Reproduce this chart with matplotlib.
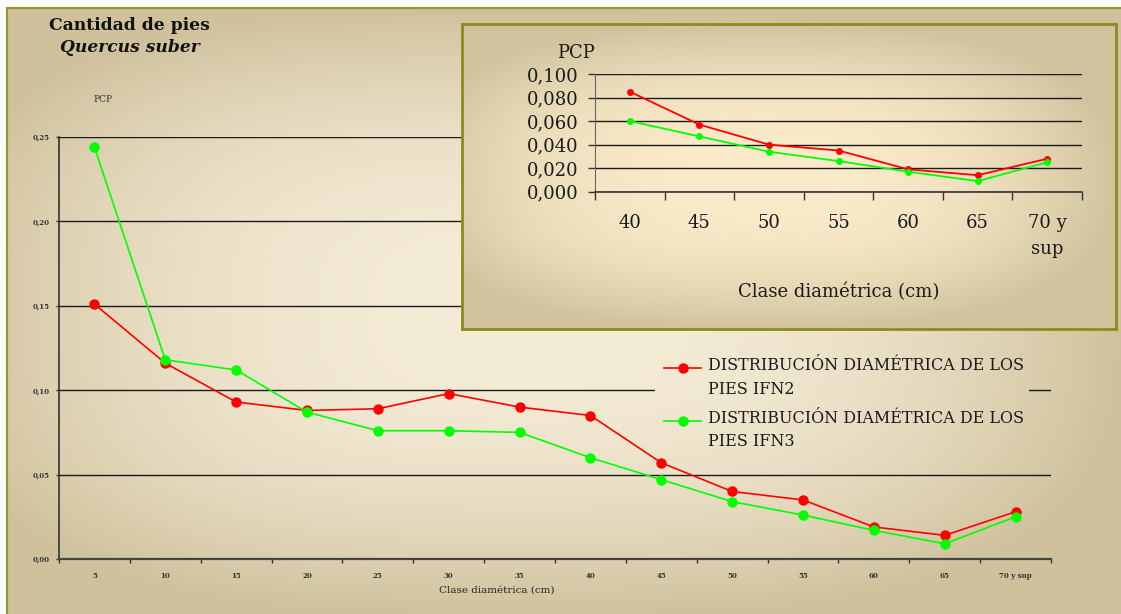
import numpy as np
import matplotlib
matplotlib.use("Agg")
import matplotlib.pyplot as plt
from matplotlib.patches import Rectangle
from matplotlib.legend_handler import HandlerLine2D

# ---- data -------------------------------------------------------------
classes = ["5", "10", "15", "20", "25", "30", "35", "40", "45", "50",
           "55", "60", "65", "70 y sup"]
ifn2 = [0.151, 0.116, 0.093, 0.088, 0.089, 0.098, 0.090, 0.085, 0.057,
        0.040, 0.035, 0.019, 0.014, 0.028]
ifn3 = [0.244, 0.118, 0.112, 0.087, 0.076, 0.076, 0.075, 0.060, 0.047,
        0.034, 0.026, 0.017, 0.009, 0.025]

inset_classes = ["40", "45", "50", "55", "60", "65", "70 y\nsup"]
inset_ifn2 = [0.085, 0.057, 0.040, 0.035, 0.019, 0.014, 0.028]
inset_ifn3 = [0.060, 0.047, 0.034, 0.026, 0.017, 0.009, 0.025]

main_yticks = [0.00, 0.05, 0.10, 0.15, 0.20, 0.25]
inset_yticks = [0.000, 0.020, 0.040, 0.060, 0.080, 0.100]

label_ifn2 = "DISTRIBUCIÓN DIAMÉTRICA DE LOS\nPIES IFN2"
label_ifn3 = "DISTRIBUCIÓN DIAMÉTRICA DE LOS\nPIES IFN3"

RED = "#ff0000"
GREEN = "#00ff00"
OLIVE = "#9a962a"
W, H = 1121, 614


def fr(x0, y0, x1, y1):
    """pixel box (top-left origin) -> figure-fraction rect"""
    return [x0 / W, 1 - y1 / H, (x1 - x0) / W, (y1 - y0) / H]


def box_gradient(nx, ny, light, dark, cx=0.5, cy=0.5, p=4.0, gamma=1.4):
    xs = np.linspace(0, 1, nx)
    ys = np.linspace(0, 1, ny)
    X, Y = np.meshgrid(xs, ys)
    dx = np.abs(X - cx) / max(cx, 1 - cx)
    dy = np.abs(Y - cy) / max(cy, 1 - cy)
    f = np.clip((dx ** p + dy ** p) ** (1 / p), 0, 1) ** gamma
    light = np.array(matplotlib.colors.to_rgb(light))
    dark = np.array(matplotlib.colors.to_rgb(dark))
    return light[None, None, :] + (dark - light)[None, None, :] * f[..., None]


class FirstLineHandler(HandlerLine2D):
    """Legend line + marker lifted to sit beside the first text line."""

    def __init__(self, lift=6.0, **kw):
        super().__init__(**kw)
        self.lift = lift

    def create_artists(self, legend, orig_handle, xdescent, ydescent,
                       width, height, fontsize, trans):
        arts = super().create_artists(legend, orig_handle, xdescent, ydescent,
                                      width, height, fontsize, trans)
        for a in arts:
            a.set_ydata(np.asarray(a.get_ydata(), dtype=float) + self.lift)
        return arts


plt.rcParams["font.family"] = ["DejaVu Serif"]
fig = plt.figure(figsize=(W / 100, H / 100), dpi=100)
fig.patch.set_facecolor("white")

# ---- chart-area background ------------------------------------------
BX0, BY0, BX1, BY1 = 7, 8, W, H
bg_ax = fig.add_axes(fr(BX0, BY0, BX1, BY1), zorder=0)
NX, NY = BX1 - BX0, BY1 - BY0
bg_img = box_gradient(NX, NY, "#f5ecd7", "#cfc19c", cx=0.47, cy=0.5,
                      p=3.0, gamma=2.3)
bg_ax.imshow(bg_img, aspect="auto", extent=[0, 1, 0, 1], origin="upper",
             interpolation="bilinear")
bg_ax.set_xlim(0, 1)
bg_ax.set_ylim(0, 1)
bg_ax.axis("off")
fig.add_artist(Rectangle((BX0 / W, -0.1), 1.2, 1 - BY0 / H + 0.1,
                         transform=fig.transFigure, fill=False,
                         edgecolor=OLIVE, linewidth=1.6, zorder=1))

# ---- main chart -------------------------------------------------------
ax = fig.add_axes(fr(59, 137, 1051, 559), zorder=2)
ax.set_facecolor("none")
x = np.arange(len(classes))
l2, = ax.plot(x, ifn2, color=RED, lw=1.2, marker="o", ms=6.5,
              label=label_ifn2, zorder=4)
l3, = ax.plot(x, ifn3, color=GREEN, lw=1.2, marker="o", ms=6.5,
              label=label_ifn3, zorder=4)
ax.set_xlim(-0.5, len(classes) - 0.5)
ax.set_ylim(0, 0.25)
ax.set_yticks(main_yticks)
ax.set_yticklabels([f"{v:.2f}".replace(".", ",") for v in main_yticks],
                   fontsize=5, color="#333333", fontweight="bold")
ax.set_xticks(np.arange(-0.5, len(classes), 1.0))
ax.set_xticklabels([])
ax.set_xticks(x, minor=True)
ax.set_xticklabels(classes, minor=True, fontsize=5, color="#333333",
                   fontweight="bold")
ax.tick_params(axis="x", which="major", length=3, width=1, color="#333333",
               direction="out")
ax.tick_params(axis="x", which="minor", length=0, pad=9)
ax.tick_params(axis="y", length=2.5, width=1, color="#333333", pad=4)
ax.grid(axis="y", color="#1a1a1a", lw=1.0)
ax.set_axisbelow(True)
for s in ("top", "right"):
    ax.spines[s].set_visible(False)
ax.spines["left"].set_color("#333333")
ax.spines["left"].set_linewidth(1.2)
ax.spines["bottom"].set_color("#444444")
ax.spines["bottom"].set_linewidth(1.6)
ax.set_xlabel("Clase diamétrica (cm)", fontsize=7.5, color="#222222")
ax.xaxis.set_label_coords((497 - 59) / (1051 - 59), -(590 - 559) / (559 - 137))
ax.xaxis.label.set_va("center")

handler = FirstLineHandler(lift=7.5)
leg = ax.legend(loc="upper left", fontsize=11.5, frameon=False,
                handlelength=2.3, handletextpad=0.4, labelspacing=0.75,
                borderpad=0.15, borderaxespad=0,
                handler_map={l2: handler, l3: handler})
leg.set_bbox_to_anchor((662 / W, 1 - 355 / H), transform=fig.transFigure)
for t in leg.get_texts():
    t.set_color("#1a1a1a")
    t.set_linespacing(1.5)

# the legend sits on a patch of plain background that hides the grid
fig.canvas.draw()
lb = leg.get_window_extent()
px0, px1 = int(lb.x0) - 7, int(lb.x1) + 4
py0, py1 = int(H - lb.y1) - 2, int(H - lb.y0) + 2
crop = bg_img[py0 - BY0:py1 - BY0, px0 - BX0:px1 - BX0]
inv = ax.transData.inverted()
(dx0, dy0), (dx1, dy1) = inv.transform([(px0, H - py1), (px1, H - py0)])
ax.imshow(crop, extent=[dx0, dx1, dy0, dy1], origin="upper", aspect="auto",
          zorder=1, interpolation="bilinear")
ax.set_xlim(-0.5, len(classes) - 0.5)
ax.set_ylim(0, 0.25)

# ---- titles -----------------------------------------------------------
fig.text(129 / W, 1 - 25 / H, "Cantidad de pies", ha="center", va="center",
         fontsize=12.3, fontweight="bold", color="#111111", zorder=5)
fig.text(130 / W, 1 - 47 / H, "Quercus suber", ha="center", va="center",
         fontsize=12.3, fontweight="bold", fontstyle="italic",
         color="#111111", zorder=5)
fig.text(103 / W, 1 - 100 / H, "PCP", ha="center", va="center", fontsize=6.5,
         color="#333333", zorder=5)

# ---- inset panel ------------------------------------------------------
frame_ax = fig.add_axes(fr(462, 24, 1116, 329), zorder=3)
in_img = box_gradient(300, 150, "#fbebcb", "#d0c39e", cx=0.46, cy=0.5,
                      p=2.6, gamma=2.4)
frame_ax.imshow(in_img, aspect="auto", extent=[0, 1, 0, 1], origin="upper",
                interpolation="bilinear")
frame_ax.set_xlim(0, 1)
frame_ax.set_ylim(0, 1)
frame_ax.set_xticks([])
frame_ax.set_yticks([])
for s in frame_ax.spines.values():
    s.set_color("#8f8a1c")
    s.set_linewidth(2.0)

iax = fig.add_axes(fr(595, 74, 1082, 191.7), zorder=4)
iax.set_facecolor("none")
xi = np.arange(len(inset_classes))
iax.plot(xi, inset_ifn2, color=RED, lw=1.3, marker="o", ms=4, zorder=4)
iax.plot(xi, inset_ifn3, color=GREEN, lw=1.3, marker="o", ms=4, zorder=4)
iax.set_xlim(-0.5, len(inset_classes) - 0.5)
iax.set_ylim(0, 0.1)
iax.set_yticks(inset_yticks)
iax.set_yticklabels([f"{v:.3f}".replace(".", ",") for v in inset_yticks],
                    fontsize=13, color="#1a1a1a")
iax.set_xticks(np.arange(-0.5, len(inset_classes), 1.0))
iax.set_xticklabels([])
iax.set_xticks(xi, minor=True)
iax.set_xticklabels(inset_classes, minor=True, fontsize=13, color="#1a1a1a")
for t in iax.get_xticklabels(minor=True):
    t.set_linespacing(1.55)
iax.tick_params(axis="x", which="major", length=5.5, width=1,
                color="#333333")
iax.tick_params(axis="x", which="minor", length=0, pad=16)
iax.tick_params(axis="y", length=5, width=1, color="#333333", pad=7)
iax.grid(axis="y", color="#1a1a1a", lw=1.0)
iax.set_axisbelow(True)
for s in ("top", "right"):
    iax.spines[s].set_visible(False)
iax.spines["left"].set_color("#666666")
iax.spines["bottom"].set_color("#333333")
iax.spines["bottom"].set_linewidth(1.2)
iax.set_xlabel("Clase diamétrica (cm)", fontsize=13, color="#1a1a1a")
iax.xaxis.set_label_coords(0.5, -(292 - 191.7) / (191.7 - 74))
iax.xaxis.label.set_va("center")
fig.text(576 / W, 1 - 53 / H, "PCP", ha="center", va="center", fontsize=13,
         color="#1a1a1a", zorder=6)

fig.savefig("out.png", dpi=100)
